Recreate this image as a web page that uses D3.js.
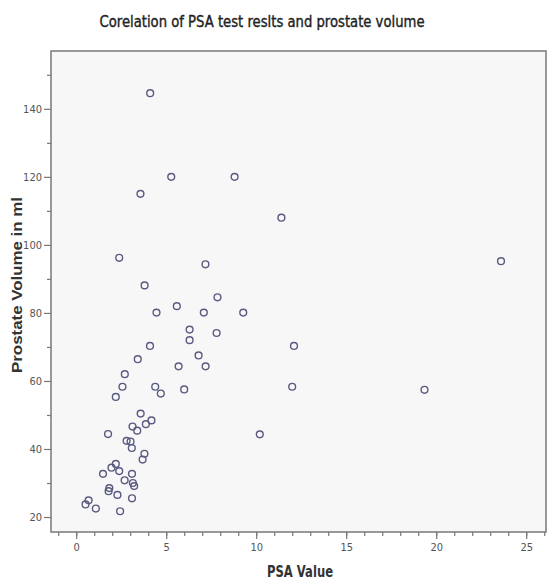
<!DOCTYPE html>
<html>
<head>
<meta charset="utf-8">
<script src="https://cdn.jsdelivr.net/npm/d3@7"></script>
<style>
  body { margin: 0; background: #fff; }
  .narrow { font-family: "Liberation Sans Narrow", "Arial Narrow", "DejaVu Sans Condensed", sans-serif; }
</style>
</head>
<body>
<script>
// PSA value vs prostate volume
var psa = [4.11, 5.28, 8.8, 3.57, 11.4, 2.39, 23.6, 7.18, 3.8, 7.85,
           5.59, 4.46, 7.09, 9.28, 6.3, 7.8, 6.3, 4.1, 12.1, 6.8,
           3.42, 5.69, 7.19, 2.7, 2.57, 4.39, 12.0, 6.0, 19.35, 4.7,
           2.2, 3.58, 4.18, 3.87, 3.13, 3.39, 1.77, 10.2, 2.8, 3.02,
           3.09, 3.79, 3.69, 2.2, 1.96, 2.39, 1.49, 3.1, 2.69, 3.15,
           3.22, 1.84, 1.8, 2.29, 3.1, 0.69, 0.52, 1.09, 2.44];
var volume = [144.6, 120, 120, 115, 108, 96.2, 95.2, 94.3, 88.1, 84.6,
              82, 80.1, 80.1, 80.1, 75.1, 74.1, 72, 70.3, 70.3, 67.5,
              66.4, 64.3, 64.3, 62, 58.3, 58.3, 58.3, 57.5, 57.4, 56.3,
              55.3, 50.4, 48.4, 47.3, 46.6, 45.4, 44.4, 44.3, 42.4, 42.2,
              40.3, 38.6, 36.9, 35.6, 34.5, 33.5, 32.7, 32.7, 30.8, 30.0,
              29.1, 28.5, 27.6, 26.5, 25.5, 24.9, 23.7, 22.5, 21.7];
var xTicks = [0, 5, 10, 15, 20, 25];
var yTicks = [20, 40, 60, 80, 100, 120, 140];

var width = 549, height = 580;
var margin = {top: 51, right: 3, bottom: 48, left: 51};

var svg = d3.select("body").append("svg")
  .attr("width", width)
  .attr("height", height);

var x = d3.scaleLinear().domain([-1.4, 26.1]).range([margin.left, width - margin.right]);
var y = d3.scaleLinear().domain([15.6, 157]).range([height - margin.bottom, margin.top]);

// plot area
svg.append("rect")
  .attr("x", margin.left).attr("y", margin.top)
  .attr("width", width - margin.left - margin.right)
  .attr("height", height - margin.top - margin.bottom)
  .attr("fill", "#f7f7f8")
  .attr("stroke", "#808080")
  .attr("stroke-width", 1.6);

// minor ticks first, then major axis with labels
svg.append("g")
  .attr("transform", "translate(0," + (height - margin.bottom) + ")")
  .call(d3.axisBottom(x).tickValues(d3.range(-1, 27)).tickSize(4).tickFormat(""))
  .call(function(g) { g.select(".domain").remove(); });
svg.append("g")
  .attr("class", "narrow")
  .attr("transform", "translate(0," + (height - margin.bottom) + ")")
  .call(d3.axisBottom(x).tickValues(xTicks).tickSize(7).tickPadding(4))
  .call(function(g) { g.select(".domain").remove(); });

svg.append("g")
  .attr("transform", "translate(" + margin.left + ",0)")
  .call(d3.axisLeft(y).tickValues(d3.range(30, 160, 20)).tickSize(4).tickFormat(""))
  .call(function(g) { g.select(".domain").remove(); });
svg.append("g")
  .attr("class", "narrow")
  .attr("transform", "translate(" + margin.left + ",0)")
  .call(d3.axisLeft(y).tickValues(yTicks).tickSize(7).tickPadding(2))
  .call(function(g) { g.select(".domain").remove(); });

svg.selectAll(".tick line").attr("stroke", "#777").attr("stroke-width", 1.2);
svg.selectAll(".tick text")
  .attr("fill", "#555")
  .style("font-size", "11px")
  .style("font-family", "'Liberation Sans Narrow', 'Arial Narrow', 'DejaVu Sans Condensed', sans-serif");

// points
svg.append("g")
  .selectAll("circle")
  .data(psa)
  .enter()
  .append("circle")
  .attr("cx", function(d) { return x(d); })
  .attr("cy", function(d, i) { return y(volume[i]); })
  .attr("r", 3.4)
  .attr("fill", "none")
  .attr("stroke", "#5a5a80")
  .attr("stroke-width", 1.4);

// title and axis labels
svg.append("text")
  .attr("class", "narrow")
  .attr("x", 262).attr("y", 27)
  .attr("text-anchor", "middle")
  .attr("textLength", 325)
  .attr("lengthAdjust", "spacingAndGlyphs")
  .style("font-size", "15px")
  .attr("fill", "#222")
  .attr("stroke", "#222")
  .attr("stroke-width", 0.35)
  .text("Corelation of PSA test reslts and prostate volume");

svg.append("text")
  .attr("class", "narrow")
  .attr("x", 300).attr("y", 577)
  .attr("text-anchor", "middle")
  .attr("textLength", 66)
  .attr("lengthAdjust", "spacingAndGlyphs")
  .style("font-size", "15px")
  .style("font-weight", "bold")
  .attr("fill", "#333")
  .text("PSA Value");

svg.append("text")
  .attr("transform", "translate(22,285) rotate(-90)")
  .attr("text-anchor", "middle")
  .attr("textLength", 176)
  .attr("lengthAdjust", "spacingAndGlyphs")
  .style("font-family", "'Liberation Sans', Arial, sans-serif")
  .style("font-size", "15px")
  .style("font-weight", "bold")
  .attr("fill", "#333")
  .text("Prostate Volume in ml");
</script>
</body>
</html>
